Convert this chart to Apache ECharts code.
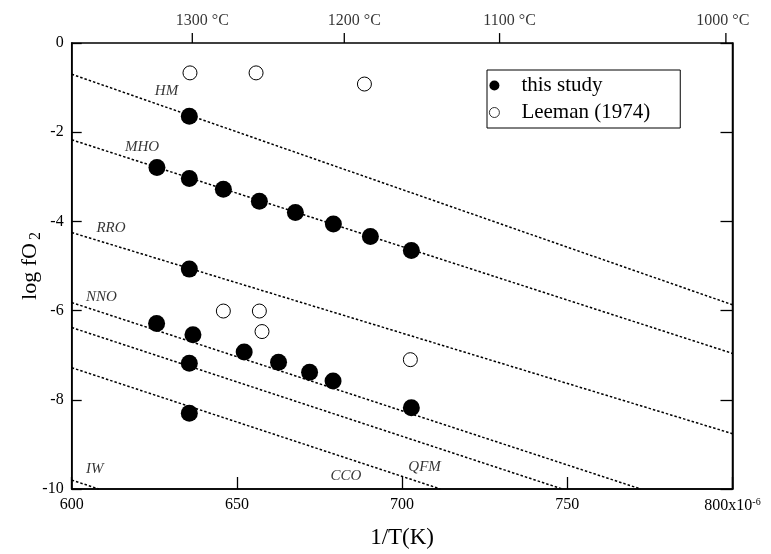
<!DOCTYPE html>
<html>
<head>
<meta charset="utf-8">
<script src="https://cdn.jsdelivr.net/npm/echarts@6/dist/echarts.min.js"></script>
<style>html,body{margin:0;padding:0;background:#fff;}#chart{width:771px;height:554px;}</style>
</head>
<body>
<div id="chart"></div>
<script>
// ---- data ----
const xTicks = [600, 650, 700, 750, 800];
const yTicks = [0, -2, -4, -6, -8, -10];
const tempLabels = ['1300 °C', '1200 °C', '1100 °C', '1000 °C'];
const tempTickX = [636.5, 682.5, 729.5, 798];

const studyX = [635.6, 625.8, 635.6, 645.9, 656.8, 667.7, 679.2, 690.4, 702.8, 635.6, 625.7, 636.7, 635.6, 635.6, 652.2, 662.6, 672.0, 679.1, 702.8];
const studyY = [-1.64, -2.79, -3.04, -3.28, -3.55, -3.80, -4.06, -4.34, -4.65, -5.07, -6.29, -6.54, -7.18, -8.30, -6.93, -7.16, -7.38, -7.58, -8.18];

const leemanX = [635.8, 655.8, 688.6, 645.9, 656.8, 657.6, 702.5];
const leemanY = [-0.67, -0.67, -0.92, -6.01, -6.01, -6.47, -7.10];

// oxygen buffer lines (start / end points as read)
const bufferNames = ['HM', 'MHO', 'RRO', 'NNO', 'buffer5', 'buffer6', 'IW'];
const bufferX0 = [600, 600, 600, 600, 600, 600, 600];
const bufferY0 = [-0.7, -2.17, -4.25, -5.82, -6.38, -7.28, -9.8];
const bufferX1 = [800, 800, 800, 772.2, 748.5, 711.6, 608.2];
const bufferY1 = [-5.87, -6.96, -8.76, -10, -10, -10, -10];

// buffer label texts and positions
const labelNames = ['HM', 'MHO', 'RRO', 'NNO', 'CCO', 'QFM', 'IW'];
const labelX = [628.7, 621.3, 611.9, 609.0, 683.0, 706.8, 607.0];
const labelY = [-1.08, -2.34, -4.16, -5.70, -9.71, -9.50, -9.56];

// ---- chart ----
const SERIF = '"Liberation Serif", "DejaVu Serif", serif';
const chart = echarts.init(document.getElementById('chart'));
const TOP_TICK = 10 / 45; // 10 px upward tick, in y units (45 px per unit)

const series = [];
bufferNames.forEach((n, i) => {
  series.push({
    name: n, type: 'line', silent: true, showSymbol: false, symbol: 'none',
    data: [[bufferX0[i], bufferY0[i]], [bufferX1[i], bufferY1[i]]],
    lineStyle: { color: '#000', width: 1.5, type: [2.5, 2] },
    z: 1
  });
});
// temperature ticks on top edge (outward)
tempTickX.forEach((t, i) => {
  series.push({
    name: 'tempTick' + i, type: 'line', silent: true, showSymbol: false, symbol: 'none',
    clip: false, data: [[t, 0], [t, TOP_TICK]],
    lineStyle: { color: '#000', width: 1.3 }, z: 3
  });
});
// temperature labels above the ticks
series.push({
  name: 'tempLabels', type: 'scatter', silent: true, symbolSize: 0, clip: false,
  data: tempTickX.map((t, i) => ({ value: [t, TOP_TICK], name: tempLabels[i] })),
  label: {
    show: true, position: 'top', distance: 4,
    formatter: p => p.dataIndex === tempTickX.length - 1 ? '{c|' + p.name + '}' : '{r|' + p.name + '}',
    rich: { r: { fontFamily: SERIF, fontSize: 16, color: '#000', padding: [0, 0, 0, 20] },
            c: { fontFamily: SERIF, fontSize: 16, color: '#000', padding: [0, 6, 0, 0] } }
  },
  z: 3
});
series.push({
  name: 'labels', type: 'scatter', silent: true, symbolSize: 0,
  data: labelNames.map((n, i) => ({ value: [labelX[i], labelY[i]], name: n })),
  label: { show: true, position: 'inside', formatter: p => p.name, color: '#000',
           fontFamily: SERIF, fontStyle: 'italic', fontSize: 15 },
  z: 2
});
series.push({
  name: 'this study', type: 'scatter', symbol: 'circle', symbolSize: 17,
  data: studyX.map((x, i) => [x, studyY[i]]),
  itemStyle: { color: '#000', opacity: 1 }, z: 5
});
series.push({
  name: 'Leeman (1974)', type: 'scatter', symbol: 'circle', symbolSize: 14,
  data: leemanX.map((x, i) => [x, leemanY[i]]),
  itemStyle: { color: '#fff', borderColor: '#000', borderWidth: 1, opacity: 1 }, z: 5
});

const axisLineStyle = { color: '#000', width: 1.5 };

chart.setOption({
  animation: false,
  backgroundColor: '#fff',
  textStyle: { fontFamily: SERIF },
  grid: { left: 71.7, right: 38.5, top: 43, bottom: 61, containLabel: false,
          show: true, borderColor: '#000', borderWidth: 1.5, backgroundColor: 'transparent' },
  legend: {
    data: [
      { name: 'this study', itemStyle: { color: '#000', opacity: 1 } },
      { name: 'Leeman (1974)', itemStyle: { color: '#fff', borderColor: '#000', borderWidth: 0.8, opacity: 1 } }
    ],
    orient: 'vertical', left: 487, top: 70,
    padding: [5, 30, 5, 2],
    itemWidth: 44, itemHeight: 10, itemGap: 6,
    borderColor: '#000', borderWidth: 1, backgroundColor: '#fff',
    textStyle: { fontFamily: SERIF, fontSize: 21, color: '#000' }
  },
  xAxis: [{
    type: 'value', position: 'bottom', min: xTicks[0], max: xTicks[xTicks.length - 1], interval: 50,
    name: '1/T(K)', nameLocation: 'middle', nameGap: 37, nameMoveOverlap: false,
    nameTextStyle: { fontFamily: SERIF, fontSize: 23, color: '#000' },
    axisLine: { show: true, onZero: false, lineStyle: axisLineStyle },
    axisTick: { inside: true, length: 12, lineStyle: { color: '#000', width: 1.3 } },
    splitLine: { show: false },
    axisLabel: {
      color: '#000', fontFamily: SERIF, fontSize: 16, margin: 8,
      formatter: v => v === 800 ? '{n|800x10}{s|-6}' : String(v),
      rich: { n: { fontFamily: SERIF, fontSize: 16, color: '#000' },
              s: { fontFamily: SERIF, fontSize: 10, color: '#000', padding: [0, 0, 8, 0] } }
    }
  }],
  yAxis: [{
    type: 'value', position: 'left', min: -10, max: 0, interval: 2,
    name: '{a|log fO} {b|2}', nameLocation: 'middle', nameGap: 28, nameMoveOverlap: false,
    nameTextStyle: { rich: { a: { fontFamily: SERIF, fontSize: 22, color: '#000' },
                             b: { fontFamily: SERIF, fontSize: 16, color: '#000', padding: [10, 0, 0, 0] } } },
    axisLine: { show: true, onZero: false, lineStyle: axisLineStyle },
    axisTick: { inside: true, length: 10, lineStyle: { color: '#000', width: 1.3 } },
    splitLine: { show: false },
    axisLabel: { color: '#000', fontFamily: SERIF, fontSize: 16, margin: 8 }
  }, {
    type: 'value', position: 'right', min: -10, max: 0, interval: 2,
    axisLine: { show: true, onZero: false, lineStyle: axisLineStyle },
    axisTick: { inside: true, length: 12, lineStyle: { color: '#000', width: 1.3 } },
    splitLine: { show: false },
    axisLabel: { show: false }
  }],
  series: series
});
</script>
</body>
</html>
